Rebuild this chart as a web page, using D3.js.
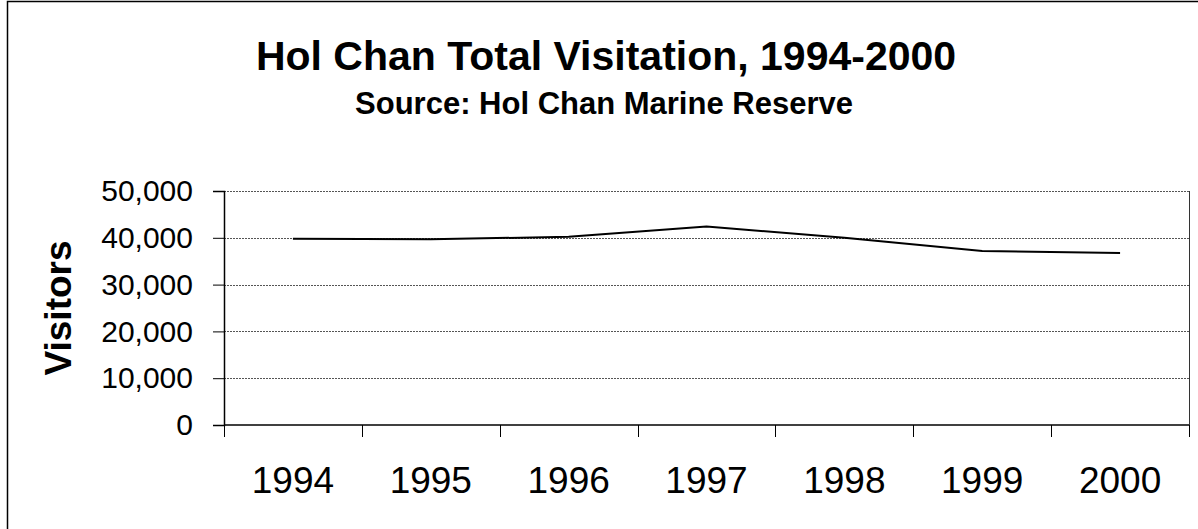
<!DOCTYPE html>
<html>
<head>
<meta charset="utf-8">
<script src="https://cdn.jsdelivr.net/npm/d3@7"></script>
<style>
  html, body { margin: 0; padding: 0; background: #fff; }
  svg { display: block; }
  text { font-family: Arial, "Liberation Sans", sans-serif; fill: #000; }
</style>
</head>
<body>
<svg id="chart" width="1198" height="529"></svg>
<script>
const years = ["1994", "1995", "1996", "1997", "1998", "1999", "2000"];
const visitors = [39800, 39700, 40200, 42400, 40000, 37200, 36750];
const yTicks = [0, 10000, 20000, 30000, 40000, 50000];
const titleText = "Hol Chan Total Visitation, 1994-2000";
const subtitleText = "Source: Hol Chan Marine Reserve";
const yAxisTitle = "Visitors";

const svg = d3.select("#chart");
const W = 1198, H = 529;
const plot = { left: 224, right: 1189, top: 191, bottom: 425 };

// outer frame
svg.append("rect")
  .attr("x", 7.5).attr("y", 1.5)
  .attr("width", W + 10).attr("height", H + 10)
  .attr("fill", "none").attr("stroke", "#000").attr("stroke-width", 1.5);

const x = d3.scaleBand().domain(years).range([plot.left, plot.right]).paddingInner(0).paddingOuter(0);
const y = d3.scaleLinear().domain([0, 50000]).range([plot.bottom, plot.top]);

// gridlines
svg.append("g")
  .selectAll("line")
  .data(yTicks.filter(d => d > 0))
  .join("line")
  .attr("x1", plot.left).attr("x2", plot.right)
  .attr("y1", d => Math.round(y(d)) + 0.5).attr("y2", d => Math.round(y(d)) + 0.5)
  .attr("stroke", "#555").attr("stroke-width", 1)
  .attr("stroke-dasharray", "2,1");

// right border of plot area
svg.append("line")
  .attr("x1", plot.right + 0.5).attr("x2", plot.right + 0.5)
  .attr("y1", plot.top).attr("y2", plot.bottom)
  .attr("stroke", "#333").attr("stroke-width", 1);

// y axis
const yAxis = d3.axisLeft(y)
  .tickValues(yTicks)
  .tickSize(11)
  .tickPadding(20)
  .tickFormat(d3.format(","));
const gy = svg.append("g")
  .attr("transform", `translate(${plot.left},0)`)
  .call(yAxis);
gy.select(".domain").attr("stroke", "#000").attr("stroke-width", 1.5);
gy.selectAll(".tick line").attr("stroke", "#000");
gy.selectAll(".tick text")
  .attr("font-size", 30)
  .attr("font-family", "Arial, 'Liberation Sans', sans-serif")
  .attr("fill", "#000");

// x axis: ticks at category boundaries
const xAxisG = svg.append("g");
xAxisG.append("line")
  .attr("x1", plot.left).attr("x2", plot.right)
  .attr("y1", plot.bottom).attr("y2", plot.bottom)
  .attr("stroke", "#000").attr("stroke-width", 1.5);
const bounds = years.map(d => x(d)).concat([x(years[years.length - 1]) + x.bandwidth()]);
xAxisG.selectAll("line.tk")
  .data(bounds)
  .join("line")
  .attr("class", "tk")
  .attr("x1", d => Math.round(d) + 0.5).attr("x2", d => Math.round(d) + 0.5)
  .attr("y1", plot.bottom).attr("y2", plot.bottom + 12)
  .attr("stroke", "#000").attr("stroke-width", 1);
xAxisG.selectAll("text")
  .data(years)
  .join("text")
  .attr("x", d => x(d) + x.bandwidth() / 2)
  .attr("y", 493)
  .attr("text-anchor", "middle")
  .attr("font-size", 37)
  .text(d => d);

// line
const line = d3.line()
  .x((d, i) => x(years[i]) + x.bandwidth() / 2)
  .y(d => y(d));
svg.append("path")
  .datum(visitors)
  .attr("d", line)
  .attr("fill", "none")
  .attr("stroke", "#000")
  .attr("stroke-width", 2);

// titles
svg.append("text")
  .attr("x", 606).attr("y", 70)
  .attr("text-anchor", "middle")
  .attr("font-size", 41).attr("font-weight", "bold")
  .text(titleText);
svg.append("text")
  .attr("x", 604).attr("y", 114)
  .attr("text-anchor", "middle")
  .attr("font-size", 31).attr("font-weight", "bold")
  .text(subtitleText);

svg.append("text")
  .attr("transform", `translate(71,${(plot.top + plot.bottom) / 2}) rotate(-90)`)
  .attr("text-anchor", "middle")
  .attr("font-size", 37).attr("font-weight", "bold")
  .text(yAxisTitle);
</script>
</body>
</html>
